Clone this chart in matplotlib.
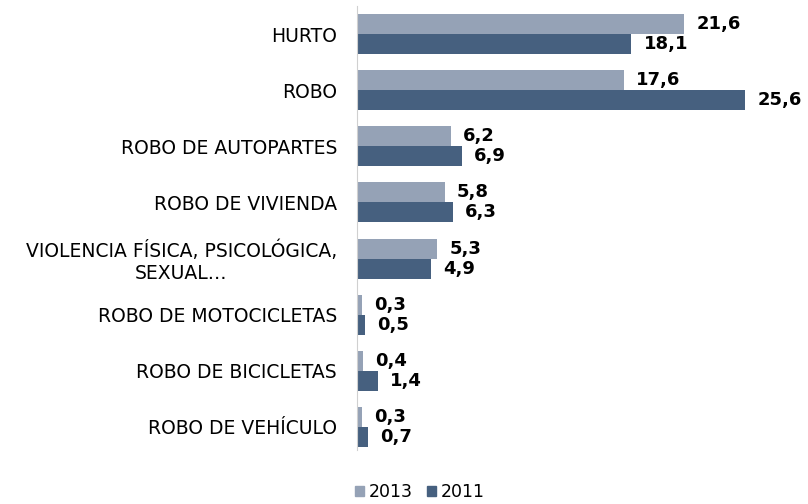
import numpy as np
import matplotlib.pyplot as plt
from matplotlib.patches import Patch

plt.rcParams["font.family"] = ["DejaVu Sans"]

categories = ["HURTO", "ROBO", "ROBO DE AUTOPARTES", "ROBO DE VIVIENDA",
              "VIOLENCIA FÍSICA, PSICOLÓGICA,\nSEXUAL…", "ROBO DE MOTOCICLETAS",
              "ROBO DE BICICLETAS", "ROBO DE VEHÍCULO"]
vals_2013 = [21.6, 17.6, 6.2, 5.8, 5.3, 0.3, 0.4, 0.3]
vals_2011 = [18.1, 25.6, 6.9, 6.3, 4.9, 0.5, 1.4, 0.7]

c2013 = "#95a2b6"
c2011 = "#46607f"

fig = plt.figure(figsize=(8.08, 5.04), dpi=100)
ax = fig.add_axes([357 / 808, 1 - 450 / 504, 1 - 357 / 808, 444 / 504])

y = np.arange(len(categories))
h = 0.356
ax.barh(y - h / 2, vals_2013, height=h, color=c2013)
ax.barh(y + h / 2, vals_2011, height=h, color=c2011)

for yi, v in zip(y, vals_2013):
    ax.text(v + 0.8, yi - h / 2, f"{v:.1f}".replace(".", ","), va="center",
            ha="left", fontsize=13, fontweight="bold")
for yi, v in zip(y, vals_2011):
    ax.text(v + 0.8, yi + h / 2, f"{v:.1f}".replace(".", ","), va="center",
            ha="left", fontsize=13, fontweight="bold")

ax.set_xlim(0, 451 / 15.16)
ax.set_ylim(7.41, -0.5)
ax.set_yticks(y)
ax.set_yticklabels(categories, fontsize=13.5, multialignment="center", linespacing=1.2)
ax.tick_params(axis="y", length=0, pad=14.4)
ax.set_xticks([])
for s in ["top", "right", "bottom"]:
    ax.spines[s].set_visible(False)
ax.spines["left"].set_color("#d0d0d0")

handles = [Patch(color=c2013, label="2013"), Patch(color=c2011, label="2011")]
fig.legend(handles=handles, loc="center", bbox_to_anchor=(420 / 808, 1 - 492 / 504),
           ncol=2, frameon=False, fontsize=12.5, handlelength=0.5, handleheight=0.5,
           handletextpad=0.3, columnspacing=0.8)

fig.savefig("out.png", dpi=100)
